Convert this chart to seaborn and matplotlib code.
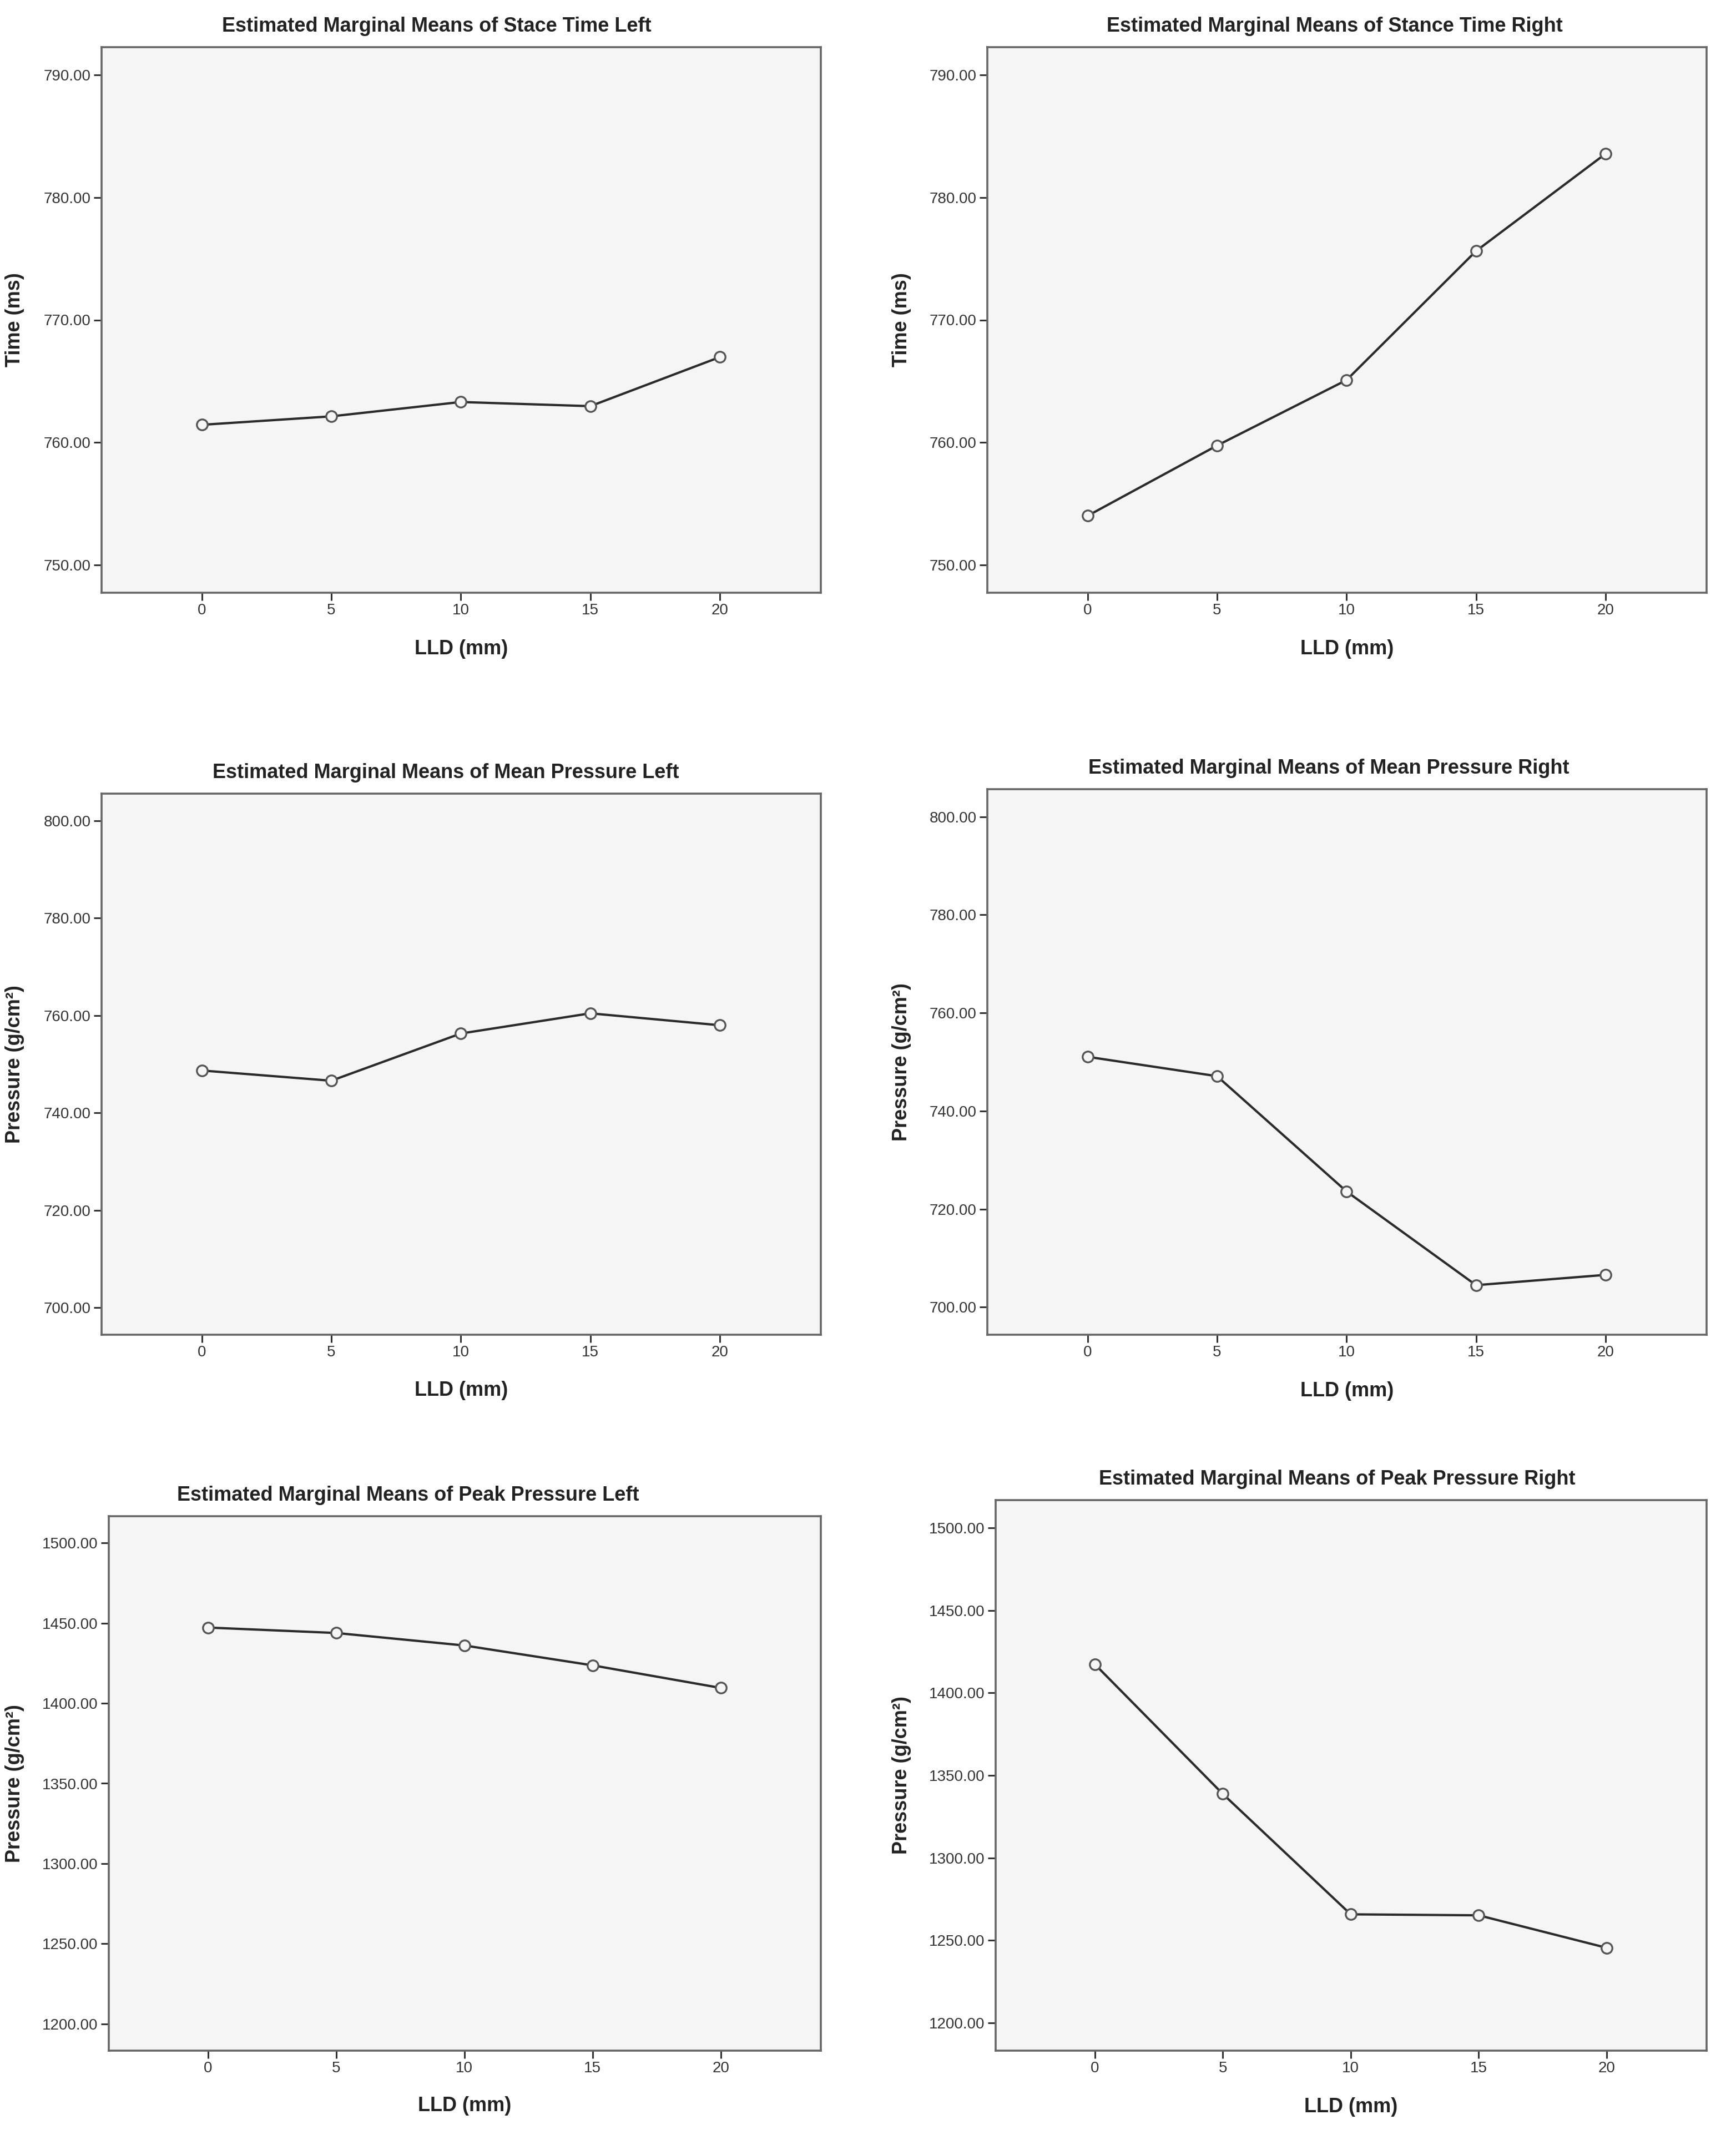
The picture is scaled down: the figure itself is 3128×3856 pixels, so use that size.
import matplotlib
matplotlib.use("Agg")
import matplotlib.pyplot as plt
import seaborn as sns
import pandas as pd
from matplotlib.ticker import FormatStrFormatter

lld = [0, 5, 10, 15, 20]

stance_left = [761.45, 762.14, 763.31, 762.97, 766.97]
stance_right = [754.03, 759.76, 765.10, 775.62, 783.55]
mean_p_left = [748.7, 746.6, 756.3, 760.45, 758.0]
mean_p_right = [751.05, 747.1, 723.6, 704.5, 706.6]
peak_p_left = [1447.3, 1443.9, 1436.1, 1423.7, 1409.6]
peak_p_right = [1417.4, 1338.8, 1265.8, 1265.2, 1245.5]

titles = [
    "Estimated Marginal Means of Stace Time Left",
    "Estimated Marginal Means of Stance Time Right",
    "Estimated Marginal Means of Mean Pressure Left",
    "Estimated Marginal Means of Mean Pressure Right",
    "Estimated Marginal Means of Peak Pressure Left",
    "Estimated Marginal Means of Peak Pressure Right",
]
ylabels = ["Time (ms)", "Time (ms)",
           "Pressure (g/cm²)", "Pressure (g/cm²)",
           "Pressure (g/cm²)", "Pressure (g/cm²)"]
yticks_time = [750, 760, 770, 780, 790]
yticks_mean = [700, 720, 740, 760, 780, 800]
yticks_peak = [1200, 1250, 1300, 1350, 1400, 1450, 1500]

series = [stance_left, stance_right, mean_p_left, mean_p_right, peak_p_left, peak_p_right]
ticks = [yticks_time, yticks_time, yticks_mean, yticks_mean, yticks_peak, yticks_peak]

sns.set_style("white")
plt.rcParams['font.family'] = ['Liberation Sans', 'DejaVu Sans']

W, H = 3128, 3856
fig = plt.figure(figsize=(W / 200, H / 200), dpi=200)

# axes boxes in pixels: left, right, top, bottom
boxes = [
    (183, 1479, 85, 1068),
    (1779, 3075, 85, 1068),
    (183, 1479, 1430, 2405),
    (1779, 3075, 1422, 2405),
    (196, 1479, 2732, 3695),
    (1794, 3075, 2703, 3695),
]
title_x = [0.466, 0.483, 0.479, 0.475, 0.42, 0.48]
ylabel_px = [44, 1642, 44, 1642, 44, 1642]

bg = "#f5f5f5"
for i in range(6):
    l, r, t, b = boxes[i]
    ax = fig.add_axes([l / W, 1 - b / H, (r - l) / W, (b - t) / H])
    ax.set_facecolor(bg)
    df = pd.DataFrame({"LLD": lld, "value": series[i]})
    sns.lineplot(data=df, x="LLD", y="value", ax=ax, color="#2b2b2b",
                 linewidth=1.5, marker="o", markersize=7,
                 markerfacecolor=bg, markeredgecolor="#555555",
                 markeredgewidth=1.2)
    yt = ticks[i]
    span = yt[-1] - yt[0]
    ax.set_ylim(yt[0] - 0.056 * span, yt[-1] + 0.056 * span)
    ax.set_xlim(-3.87, 23.9)
    ax.set_yticks(yt)
    ax.set_xticks(lld)
    ax.yaxis.set_major_formatter(FormatStrFormatter("%.2f"))
    ax.tick_params(axis="both", which="major", direction="out", length=5,
                   width=1.1, color="#333333", labelsize=10,
                   labelcolor="#333333", pad=2, left=True, bottom=True)
    for s in ax.spines.values():
        s.set_color("#666666")
        s.set_linewidth(1.3)
    ax.set_xlabel("LLD (mm)", fontsize=13, fontweight="bold", color="#222222")
    ax.set_ylabel(ylabels[i], fontsize=13, fontweight="bold", color="#222222")
    ax.xaxis.set_label_coords(0.5, -0.085)
    ax.yaxis.set_label_coords(-(l - ylabel_px[i]) / (r - l), 0.5)
    ax.set_title(titles[i], fontsize=13, fontweight="bold", color="#222222",
                 x=title_x[i], pad=10)

fig.savefig("out.png", dpi=200, facecolor="white")
